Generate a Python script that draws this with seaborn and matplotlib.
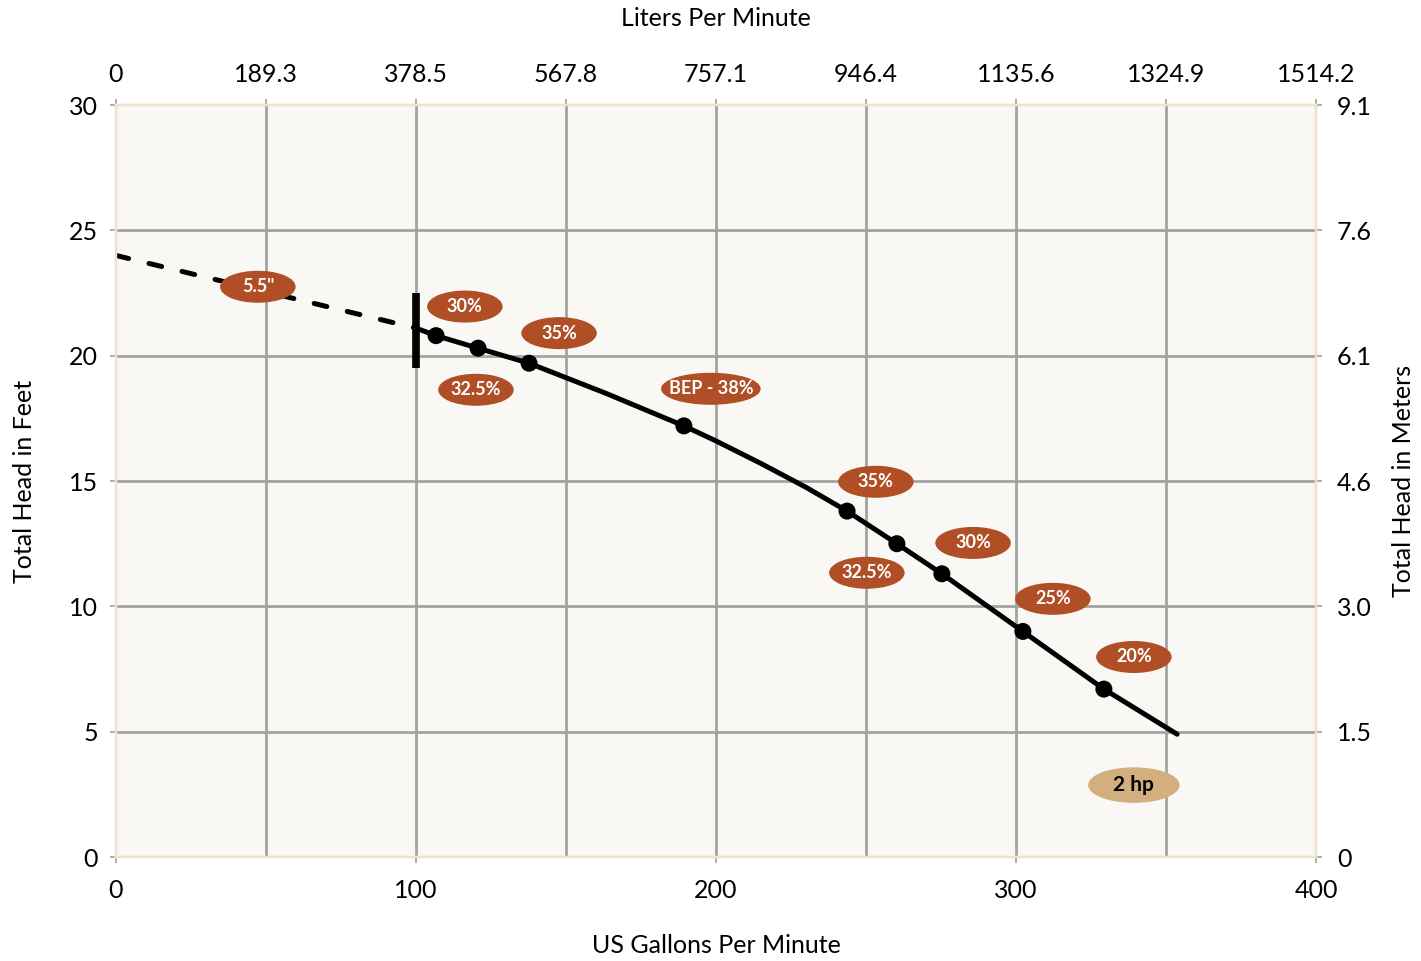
import matplotlib
matplotlib.use("Agg")
import matplotlib.pyplot as plt
from matplotlib.patches import Ellipse
import seaborn as sns
import pandas as pd

# curve data (US GPM vs feet of head)
dashed_gpm = [0, 100]
dashed_ft = [24.0, 21.1]
curve_gpm = [100, 106.7, 120.7, 137.7, 163.3, 189.3, 200, 215, 230, 243.7, 260.3, 275.3, 302.3, 329.3, 353.7]
curve_ft = [21.1, 20.8, 20.3, 19.7, 18.5, 17.2, 16.6, 15.7, 14.75, 13.8, 12.5, 11.3, 9.0, 6.7, 4.9]
dot_gpm = [106.7, 120.7, 137.7, 189.3, 243.7, 260.3, 275.3, 302.3, 329.3]
dot_ft = [20.8, 20.3, 19.7, 17.2, 13.8, 12.5, 11.3, 9.0, 6.7]

# oval labels
label_text = ['5.5"', "30%", "35%", "32.5%", "BEP - 38%", "35%", "30%", "32.5%", "25%", "20%"]
label_gpm = [47.3, 116.3, 147.7, 120.0, 198.3, 253.3, 285.7, 250.3, 312.3, 339.3]
label_ft = [22.75, 21.96, 20.9, 18.64, 18.68, 14.97, 12.53, 11.34, 10.3, 7.98]
hp_text = "2 hp"
hp_gpm = 339.3
hp_ft = 2.87

gpm_ticks = [0, 100, 200, 300, 400]
lpm_ticks = [0, 50, 100, 150, 200, 250, 300, 350, 400]
lpm_labels = ["0", "189.3", "378.5", "567.8", "757.1", "946.4", "1135.6", "1324.9", "1514.2"]
ft_ticks = [0, 5, 10, 15, 20, 25, 30]
m_labels = ["0", "1.5", "3.0", "4.6", "6.1", "7.6", "9.1"]

sns.set_theme(style="white")
plt.rcParams["font.family"] = ["Lato", "DejaVu Sans"]
plt.rcParams["text.color"] = "black"
plt.rcParams["axes.labelcolor"] = "black"
plt.rcParams["xtick.color"] = "black"
plt.rcParams["ytick.color"] = "black"

grid_c = "#a3a3a3"
spine_c = "#efe2cf"
rust = "#b04f26"
tan = "#d3ae7f"
fs = 18

fig = plt.figure(figsize=(14.21, 9.61), dpi=100)
ax = fig.add_axes([0.0816, 0.1082, 0.8445, 0.7825])
ax.set_facecolor("#f9f8f4")
ax.set_xlim(0, 400)
ax.set_ylim(0, 30)

for x in range(50, 400, 50):
    ax.axvline(x, color=grid_c, lw=2, zorder=1)
for y in range(5, 30, 5):
    ax.axhline(y, color=grid_c, lw=2, zorder=1)

df_dash = pd.DataFrame({"gpm": dashed_gpm, "ft": dashed_ft})
df_curve = pd.DataFrame({"gpm": curve_gpm, "ft": curve_ft})
df_dots = pd.DataFrame({"gpm": dot_gpm, "ft": dot_ft})

sns.lineplot(data=df_dash, x="gpm", y="ft", ax=ax, color="black", lw=3.6,
             linestyle=(0, (2.6, 4.2)), dash_capstyle="round", sort=False, zorder=3)
sns.lineplot(data=df_curve, x="gpm", y="ft", ax=ax, color="black", lw=3.6,
             sort=False, zorder=3, solid_joinstyle="round", solid_capstyle="round")
sns.scatterplot(data=df_dots, x="gpm", y="ft", ax=ax, color="black", s=150,
                edgecolor="none", zorder=4)
ax.plot([100, 100], [19.5, 22.5], color="black", lw=5.5, solid_capstyle="butt", zorder=4)

for t, x, y in zip(label_text, label_gpm, label_ft):
    w = 32.7 if t.startswith("BEP") else 24.7
    ax.add_patch(Ellipse((x, y), w, 1.22, color=rust, zorder=5))
    ax.text(x, y, t, color="white", fontsize=13, fontweight="bold",
            ha="center", va="center", zorder=6)
ax.add_patch(Ellipse((hp_gpm, hp_ft), 30, 1.36, color=tan, zorder=5))
ax.text(hp_gpm, hp_ft, hp_text, color="black", fontsize=15, fontweight="bold",
        ha="center", va="center", zorder=6)

ax.set_xticks(gpm_ticks)
ax.set_yticks(ft_ticks)
ax.tick_params(axis="x", length=4, color=grid_c, pad=12, labelsize=fs)
ax.tick_params(axis="y", length=4, color=grid_c, pad=9, labelsize=fs)
ax.set_xlabel("US Gallons Per Minute", fontsize=fs, va="center")
ax.xaxis.set_label_coords(0.5, -0.117)
ax.set_ylabel("Total Head in Feet", fontsize=fs, va="center")
ax.yaxis.set_label_coords(-0.0758, 0.5)

top = ax.twiny()
top.set_xlim(0, 400)
top.set_xticks(lpm_ticks)
top.set_xticklabels(lpm_labels)
top.tick_params(axis="x", length=4, color=grid_c, pad=10, labelsize=fs)
top.set_xlabel("Liters Per Minute", fontsize=fs, va="center")
top.xaxis.set_label_coords(0.5, 1.1157)

right = ax.twinx()
right.set_ylim(0, 30)
right.set_yticks(ft_ticks)
right.set_yticklabels(m_labels)
right.tick_params(axis="y", length=4, color=grid_c, pad=11, labelsize=fs)
right.set_ylabel("Total Head in Meters", fontsize=fs, va="center")
right.yaxis.set_label_coords(1.0733, 0.5)

for a in (ax, top, right):
    for s in a.spines.values():
        s.set_color(spine_c)
        s.set_linewidth(1.6)

fig.savefig("out.png", dpi=100)
